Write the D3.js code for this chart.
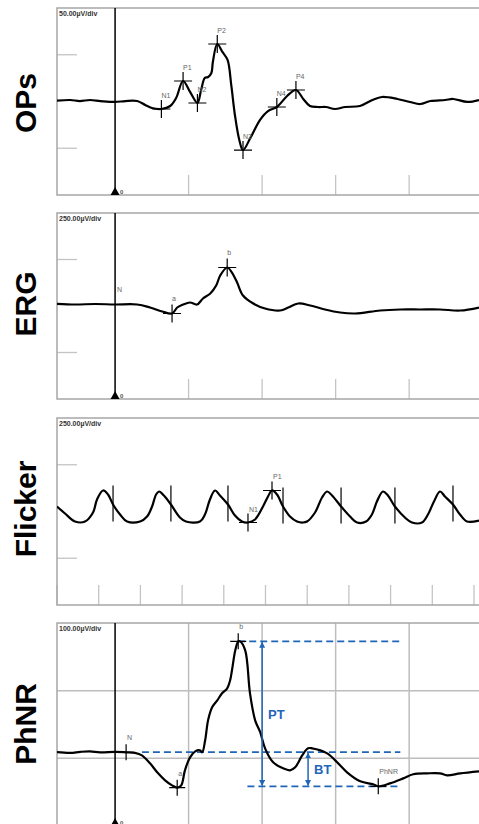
<!DOCTYPE html>
<html>
<head>
<meta charset="utf-8">
<script src="https://cdn.jsdelivr.net/npm/d3@7"></script>
<style>
  html, body { margin: 0; padding: 0; background: #fff; }
  svg { display: block; }
</style>
</head>
<body>
<script>
// ---- Oscillatory potentials (ms, µV) ----
const opsTime = [-7.9, -6.1, -4.8, -3.4, -2.0, 0, 1.4, 3.0, 4.1, 5.0, 6.3, 7.5, 8.3, 9.25, 10.2, 11.2, 11.7, 12.2, 12.65, 13.1, 13.3, 13.9, 14.6, 15.3, 15.8, 16.3, 16.9, 17.4, 18.4, 19.7, 20.8, 22.0, 23.4, 24.6, 25.6, 26.5, 27.6, 28.7, 29.9, 31.3, 33.3, 35.0, 36.3, 38.4, 40.1, 41.5, 42.9, 44.9, 46.0, 47.9, 49.5];
const opsVolt = [0.9, 1.6, 0.5, 1.6, 0.5, -0.5, 0.5, 0.5, -3.7, -7.0, -8.0, -4.8, 3.7, 21.9, 10.2, -1.6, 12.3, 25.1, 26.2, 30.5, 42.3, 61.5, 53.0, 44.4, 17.7, -14.4, -41.2, -51.9, -39.1, -19.8, -10.2, -5.9, 5.9, 12.3, 2.7, -4.8, -5.9, -5.9, -8.0, -5.9, -4.8, 1.6, 4.8, 2.7, -0.5, -2.7, 0.5, 1.6, 2.7, -0.5, 1.6];
const opsPeakNames = ["N1", "P1", "N2", "P2", "N3", "N4", "P4"];
const opsPeakTimes = [6.3, 9.25, 11.2, 13.9, 17.4, 22.0, 24.6];
const opsPeakVolts = [-8.0, 21.9, -1.6, 61.5, -51.9, -5.9, 12.3];

// ---- Flash ERG (ms, µV) ----
const ergTime = [-15.8, -10.9, -5.4, 0, 6.0, 9.5, 12.8, 15.5, 16.9, 18.5, 20.4, 22.3, 23.9, 25.9, 27.5, 28.6, 30.5, 31.8, 33.2, 34.8, 37.6, 40.8, 44.9, 47.1, 49.8, 53.1, 57.1, 61.2, 65.3, 72.1, 77.6, 83.0, 88.4, 93.9, 99.0];
const ergVolt = [11.8, 8.1, 10.8, 8.1, 8.1, -8.1, -29.6, -40.3, -8.1, 8.1, 18.8, 8.1, 40.3, 67.2, 110, 164, 207, 180, 126, 56.4, 13.4, -13.4, -24.2, -8.1, 13.4, 2.7, -18.8, -34.9, -40.3, -24.2, -18.8, -18.8, -18.8, -24.2, -8.1];
const ergPeakNames = ["a", "b"];
const ergPeakTimes = [15.5, 30.5];
const ergPeakVolts = [-40.3, 207];

// ---- 30 Hz flicker (ms, µV) ----
const flkTime = [0, 4.8, 10.8, 16.8, 21.6, 24.0, 27.6, 30.6, 33.6, 37.8, 42.0, 49.8, 54.0, 57.0, 59.4, 61.2, 64.1, 68.3, 73.7, 77.3, 85.7, 88.7, 91.7, 94.7, 97.7, 102.5, 106.7, 110.9, 114.5, 118.7, 123.5, 126.5, 128.9, 131.9, 135.5, 139.7, 143.9, 147.5, 149.9, 154.7, 158.9, 161.9, 164.9, 170.3, 175.7, 179.9, 185.3, 188.8, 191.8, 195.4, 198.4, 202.6, 208.6, 212.8, 218.8, 222.4, 226.0, 229.6, 232.6, 237.4, 241.6, 245.8, 253.0];
const flkVolt = [26.8, -10.7, -53.5, -53.5, -5.4, 64.2, 112.4, 91.0, 37.5, -16.1, -53.5, -53.5, -26.8, 26.8, 91.0, 107, 85.6, 37.5, -32.1, -53.5, -53.5, -16.1, 64.2, 112.4, 85.6, 37.5, -21.4, -53.5, -58.9, -42.8, 26.8, 80.3, 112.4, 91.0, 26.8, -26.8, -53.5, -58.9, -53.5, -5.4, 74.9, 107, 85.6, 26.8, -26.8, -58.9, -53.5, -16.1, 53.5, 107, 85.6, 26.8, -32.1, -58.9, -58.9, -16.1, 53.5, 107, 80.3, 37.5, -16.1, -53.5, -48.2];
const flkPeakNames = ["N1", "P1"];
const flkPeakTimes = [114.5, 128.9];
const flkPeakVolts = [-58.9, 112.4];
const flkCycleTimes = [33.6, 68.3, 102.5, 135.5, 170.3, 202.6, 237.4];
const flkCycleVolts = [37.5, 37.5, 37.5, 26.8, 26.8, 26.8, 37.5];

// ---- Photopic negative response (ms, µV) ----
const phnrTime = [-15.8, -12.2, -9.5, -6.8, -4.1, 0, 3.0, 5.4, 7.3, 9.5, 11.7, 13.6, 15.5, 16.9, 18.0, 19.0, 20.4, 21.8, 23.1, 23.7, 24.5, 25.3, 26.4, 27.8, 29.1, 30.5, 31.3, 31.8, 32.7, 33.5, 34.0, 35.4, 36.7, 38.1, 39.5, 40.8, 43.0, 45.7, 47.6, 49.0, 50.9, 52.5, 53.6, 57.7, 60.4, 63.1, 66.7, 70.2, 71.6, 74.8, 78.4, 81.1, 84.9, 88.4, 90.3, 93.9, 99.0];
const phnrVolt = [9.3, 8.1, 9.6, 10.3, 8.9, 9.6, 8.9, 8.1, 4.4, -7.4, -22.2, -32.5, -39.9, -43.3, -39.9, -17.7, 1.5, 10.3, 11.8, 8.9, 26.6, 56.2, 75.4, 85.7, 96.1, 103.5, 115.3, 130.1, 159.6, 172.9, 172.9, 159.6, 96.1, 56.2, 38.4, 14.8, -5.9, -14.8, -17.7, -13.3, 4.4, 14.8, 14.8, 7.4, -5.9, -20.7, -34.0, -38.4, -41.4, -37.0, -29.6, -23.6, -22.2, -22.2, -25.1, -22.2, -19.2];
const phnrPeakNames = ["N", "a", "b", "PhNR"];
const phnrPeakTimes = [3.0, 16.9, 33.5, 71.6];
const phnrPeakVolts = [8.9, -43.3, 172.9, -41.4];
const phnrBaseline = 9.3;

// ---- Panel titles and scales ----
const panelTitles = ["OPs", "ERG", "Flicker", "PhNR"];
const panelScaleText = ["50.00µV/div", "250.00µV/div", "250.00µV/div", "100.00µV/div"];

const W = 479, H = 824;
const svg = d3.select("body").append("svg").attr("width", W).attr("height", H);
const FONT = "'Liberation Sans', Arial, sans-serif";
const FRAME = "#a6a6a6";
const BLUE = "#1f66b9";

const defs = svg.append("defs");
defs.append("marker").attr("id", "arrowHead")
  .attr("viewBox", "0 0 10 10").attr("refX", 9).attr("refY", 5)
  .attr("markerWidth", 6).attr("markerHeight", 6).attr("orient", "auto-start-reverse")
  .attr("markerUnits", "userSpaceOnUse")
  .append("path").attr("d", "M0,0 L10,5 L0,10 z").attr("fill", BLUE);

function drawPanel(p) {
  const g = svg.append("g");
  const x = d3.scaleLinear().domain(p.xDomain).range([p.left, W]);
  const y = d3.scaleLinear().domain(p.yDomain).range([p.bottom, p.top]);

  const clipId = "clip" + p.idx;
  defs.append("clipPath").attr("id", clipId)
    .append("rect").attr("x", p.left).attr("y", p.top)
    .attr("width", W - p.left).attr("height", p.bottom - p.top);

  // grid (PhNR) or short edge ticks
  if (p.grid) {
    const gx = p.xGrid.map(t => x(t));
    g.selectAll(".vg").data(gx).join("line")
      .attr("x1", d => d).attr("x2", d => d).attr("y1", p.top).attr("y2", p.bottom)
      .attr("stroke", "#bdbdbd").attr("stroke-width", 1.5);
    g.selectAll(".hg").data(p.yGrid).join("line")
      .attr("x1", p.left).attr("x2", W).attr("y1", d => y(d)).attr("y2", d => y(d))
      .attr("stroke", "#bdbdbd").attr("stroke-width", 1.5);
  } else {
    g.selectAll(".yt").data(p.yTicks).join("line")
      .attr("x1", p.left).attr("x2", p.left + 20).attr("y1", d => y(d)).attr("y2", d => y(d))
      .attr("stroke", "#c4c4c4").attr("stroke-width", 1.3);
    g.selectAll(".xt").data(p.xTicks).join("line")
      .attr("x1", d => x(d)).attr("x2", d => x(d)).attr("y1", p.bottom - 20).attr("y2", p.bottom)
      .attr("stroke", "#c4c4c4").attr("stroke-width", 1.3);
  }

  // frame
  g.append("path")
    .attr("d", `M${W},${p.top} H${p.left} V${p.bottom} H${W}`)
    .attr("fill", "none").attr("stroke", FRAME).attr("stroke-width", 1.5);

  // scale text
  g.append("text").attr("x", p.left + 2).attr("y", p.top + 8)
    .attr("font-family", FONT).attr("font-size", 7).attr("font-weight", "bold")
    .attr("fill", "#333").text(panelScaleText[p.idx]);

  // panel title
  g.append("text")
    .attr("transform", `translate(36,${p.titleY}) rotate(-90)`)
    .attr("text-anchor", "middle")
    .attr("font-family", FONT).attr("font-size", 30).attr("font-weight", "bold")
    .attr("fill", "#000").text(panelTitles[p.idx]);

  // stimulus cursor
  if (p.cursor !== null) {
    const cx = x(p.cursor);
    g.append("line").attr("x1", cx).attr("x2", cx).attr("y1", p.top).attr("y2", p.bottom)
      .attr("stroke", "#000").attr("stroke-width", 1.5);
    g.append("path").attr("d", `M${cx},${p.bottom - 8} L${cx + 4.5},${p.bottom} L${cx - 4.5},${p.bottom} Z`)
      .attr("fill", "#000");
    g.append("text").attr("x", cx + 5).attr("y", p.bottom - 1.5)
      .attr("font-family", FONT).attr("font-size", 6).attr("font-weight", "bold")
      .attr("fill", "#555").text("0");
  }

  return { g, x, y, clipId };
}

function drawTrace(ctx, times, volts) {
  const pts = times.map((t, i) => [t, volts[i]]);
  const line = d3.line().x(d => ctx.x(d[0])).y(d => ctx.y(d[1])).curve(d3.curveCatmullRom.alpha(0.5));
  ctx.g.append("path").attr("d", line(pts)).attr("clip-path", `url(#${ctx.clipId})`)
    .attr("fill", "none").attr("stroke", "#000").attr("stroke-width", 2.2)
    .attr("stroke-linejoin", "round");
}

function drawPeaks(ctx, names, times, volts, half, labelDx, labelDy) {
  names.forEach((n, i) => {
    const cx = ctx.x(times[i]), cy = ctx.y(volts[i]);
    ctx.g.append("path").attr("d", `M${cx - half},${cy} H${cx + half} M${cx},${cy - half} V${cy + half}`)
      .attr("stroke", "#000").attr("stroke-width", 1.2).attr("fill", "none");
    ctx.g.append("text").attr("x", cx + labelDx).attr("y", cy + labelDy)
      .attr("font-family", FONT).attr("font-size", 7).attr("fill", "#666").text(n);
  });
}

// OPs
const ops = drawPanel({ idx: 0, left: 57, top: 8, bottom: 195, xDomain: [-7.9, 49.5], yDomain: [-100, 100],
  yTicks: [-50, 50], xTicks: [10, 20, 30, 40], cursor: 0, titleY: 103 });
drawTrace(ops, opsTime, opsVolt);
drawPeaks(ops, opsPeakNames, opsPeakTimes, opsPeakVolts, 9, 0, -11);

// ERG
const erg = drawPanel({ idx: 1, left: 57, top: 213, bottom: 399, xDomain: [-15.8, 99], yDomain: [-500, 500],
  yTicks: [-250, 250], xTicks: [20, 40, 60, 80], cursor: 0, titleY: 304 });
drawTrace(erg, ergTime, ergVolt);
drawPeaks(erg, ergPeakNames, ergPeakTimes, ergPeakVolts, 9, 0, -12);
erg.g.append("text").attr("x", erg.x(0) + 2).attr("y", erg.y(8.1) - 12)
  .attr("font-family", FONT).attr("font-size", 7).attr("fill", "#666").text("N");

// Flicker
const flk = drawPanel({ idx: 2, left: 57, top: 418, bottom: 605, xDomain: [0, 253], yDomain: [-500, 500],
  yTicks: [-250, 250], xTicks: d3.range(0, 251, 25), cursor: null, titleY: 509 });
drawTrace(flk, flkTime, flkVolt);
flk.g.selectAll(".cyc").data(flkCycleTimes).join("line")
  .attr("x1", d => flk.x(d)).attr("x2", d => flk.x(d))
  .attr("y1", (d, i) => flk.y(flkCycleVolts[i]) - 19).attr("y2", (d, i) => flk.y(flkCycleVolts[i]) + 17)
  .attr("stroke", "#000").attr("stroke-width", 1.2);
drawPeaks(flk, flkPeakNames, flkPeakTimes, flkPeakVolts, 9, 1, -11);

// PhNR
const ph = drawPanel({ idx: 3, left: 57, top: 623, bottom: 826, xDomain: [-15.8, 99], yDomain: [-100, 200],
  grid: true, xGrid: [20, 40, 60, 80], yGrid: [0, 100], cursor: 0, titleY: 724 });

// reference levels for PT / BT
const dash = "7,4";
const peakB = phnrPeakVolts[2], troughP = phnrPeakVolts[3];
const levelEnd = 77.6;
[[phnrPeakTimes[2], peakB], [7.3, phnrBaseline], [36.0, troughP]].forEach(([t0, v]) => {
  ph.g.append("line").attr("x1", ph.x(t0)).attr("x2", ph.x(levelEnd))
    .attr("y1", ph.y(v)).attr("y2", ph.y(v))
    .attr("stroke", BLUE).attr("stroke-width", 1.8).attr("stroke-dasharray", dash);
});
drawTrace(ph, phnrTime, phnrVolt);
drawPeaks(ph, phnrPeakNames, phnrPeakTimes, phnrPeakVolts, 8, 1, -12);

// PT and BT amplitude arrows
function amp(t, vTop, vBot, label, lx, ly) {
  ph.g.append("line").attr("x1", ph.x(t)).attr("x2", ph.x(t))
    .attr("y1", ph.y(vTop) + 1).attr("y2", ph.y(vBot) - 1)
    .attr("stroke", BLUE).attr("stroke-width", 1.5)
    .attr("marker-start", "url(#arrowHead)").attr("marker-end", "url(#arrowHead)");
  ph.g.append("text").attr("x", ph.x(t) + lx).attr("y", ly)
    .attr("font-family", FONT).attr("font-size", 13).attr("font-weight", "bold")
    .attr("fill", BLUE).text(label);
}
amp(40.0, peakB, troughP, "PT", 6, 719);
amp(52.5, phnrBaseline, troughP, "BT", 6, 774);
</script>
</body>
</html>
